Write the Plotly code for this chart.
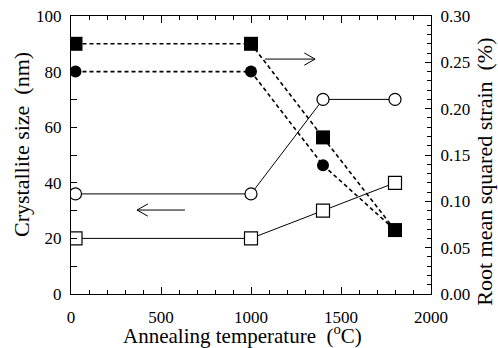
import plotly.graph_objects as go

temps = [25, 1000, 1400, 1800]
size_circle = [36, 36, 70, 70]        # open circles, crystallite size (nm)
size_square = [20, 20, 30, 40]        # open squares, crystallite size (nm)
strain_circle = [0.24, 0.24, 0.139, 0.069]  # filled circles, strain (%)
strain_square = [0.27, 0.27, 0.169, 0.069]  # filled squares, strain (%)

FONT = "Times New Roman"
fig = go.Figure()

fig.add_trace(go.Scatter(x=temps, y=size_circle, mode="lines+markers",
    line=dict(color="black", width=1),
    marker=dict(symbol="circle", size=12, color="white", line=dict(color="black", width=1.2)),
    showlegend=False))
fig.add_trace(go.Scatter(x=temps, y=size_square, mode="lines+markers",
    line=dict(color="black", width=1),
    marker=dict(symbol="square", size=13, color="white", line=dict(color="black", width=1.2)),
    showlegend=False))
fig.add_trace(go.Scatter(x=temps, y=strain_circle, mode="lines+markers", yaxis="y2",
    line=dict(color="black", width=1.6, dash="4px,3px"),
    marker=dict(symbol="circle", size=12, color="black"),
    showlegend=False))
fig.add_trace(go.Scatter(x=temps, y=strain_square, mode="lines+markers", yaxis="y2",
    line=dict(color="black", width=1.6, dash="4px,3px"),
    marker=dict(symbol="square", size=14, color="black"),
    showlegend=False))

# arrows (direction indicators), in data coordinates
arrows = [
    # (x_start, x_end, y)  -> arrow points toward x_end
    (1078, 1356, 84.5),
    (633, 367, 30.2),
]
for xs, xe, yv in arrows:
    fig.add_shape(type="line", x0=xs, x1=xe, y0=yv, y1=yv, xref="x", yref="y",
                  line=dict(color="black", width=1))
    d = 1 if xe > xs else -1
    hx = xe - d * 60
    fig.add_shape(type="path", xref="x", yref="y",
                  path=f"M {hx},{yv+2.2} L {xe},{yv} L {hx},{yv-2.2}",
                  line=dict(color="black", width=1))

axis_common = dict(showline=True, linecolor="black", linewidth=1.2, showgrid=False,
                   zeroline=False, ticks="inside", tickcolor="black", automargin=False,
                   tickfont=dict(family=FONT, size=17, color="black"))

# axis titles as annotations for precise placement
fig.add_annotation(text="Annealing temperature  (<sup>o</sup>C)", xref="paper", yref="paper",
                   x=0.475, y=0, yshift=-40, xanchor="center", yanchor="middle", showarrow=False,
                   font=dict(family=FONT, size=21, color="black"))
fig.add_annotation(text="Crystallite size  (nm)", xref="paper", yref="paper",
                   x=0, xshift=-49, y=0.536, xanchor="center", yanchor="middle", textangle=-90,
                   showarrow=False, font=dict(family=FONT, size=22, color="black"))
fig.add_annotation(text="Root mean squared strain  (%)", xref="paper", yref="paper",
                   x=1, xshift=54, y=0.44, xanchor="center", yanchor="middle", textangle=-90,
                   showarrow=False, font=dict(family=FONT, size=22, color="black"))

fig.update_layout(
    width=498, height=348,
    margin=dict(l=71, r=67, t=16, b=54),
    plot_bgcolor="white", paper_bgcolor="white",
    font=dict(family=FONT, color="black"),
    xaxis=dict(**axis_common, range=[0, 2000], tickvals=[0, 500, 1000, 1500, 2000],
               ticklen=7, mirror="ticks", ticklabelstandoff=7,
               minor=dict(dtick=100, ticks="inside", ticklen=4, tickcolor="black")),
    yaxis=dict(**axis_common, range=[0, 100], tickvals=[0, 20, 40, 60, 80, 100],
               ticklen=6, ticklabelstandoff=5,
               minor=dict(dtick=10, ticks="inside", ticklen=6, tickcolor="black")),
    yaxis2=dict(**axis_common, range=[0, 0.30], overlaying="y", side="right",
                tickvals=[0, 0.05, 0.10, 0.15, 0.20, 0.25, 0.30],
                ticktext=["0.00", "0.05", "0.10", "0.15", "0.20", "0.25", "0.30"],
                ticklen=6, ticklabelstandoff=5,
                minor=dict(dtick=0.01, ticks="inside", ticklen=4, tickcolor="black")),
)

fig.write_html("out.html")
